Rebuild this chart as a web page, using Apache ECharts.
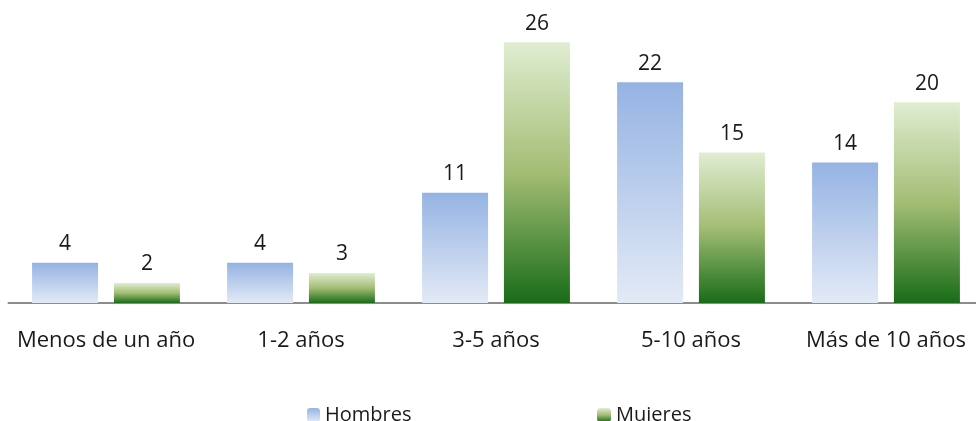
<!DOCTYPE html>
<html>
<head>
<meta charset="utf-8">
<script src="https://cdn.jsdelivr.net/npm/echarts@6/dist/echarts.min.js"></script>
<style>html,body{margin:0;padding:0;background:#fff}#c{width:976px;height:421px}</style>
</head>
<body>
<div id="c"></div>
<script>
var categories = ['Menos de un año', '1-2 años', '3-5 años', '5-10 años', 'Más de 10 años'];
var hombres = [4, 4, 11, 22, 14];
var mujeres = [2, 3, 26, 15, 20];

var FONT = 'Open Sans';
var FS = 22;
var blueGrad = new echarts.graphic.LinearGradient(0, 0, 0, 1, [
  {offset: 0, color: '#95b3e3'},
  {offset: 1, color: '#e3eaf6'}
]);
var greenGrad = new echarts.graphic.LinearGradient(0, 0, 0, 1, [
  {offset: 0, color: '#e0edd2'},
  {offset: 0.5, color: '#a3bd74'},
  {offset: 1, color: '#186c18'}
]);

var chart = echarts.init(document.getElementById('c'));
chart.setOption({
  animation: false,
  textStyle: {fontFamily: FONT},
  grid: {left: 8.5, width: 975, top: 2, bottom: 118, containLabel: false, outerBoundsMode: 'none'},
  legend: [
    {data: ['Hombres'], left: 307, top: 405, padding: 0, itemWidth: 13, itemHeight: 14, itemGap: 6,
     textStyle: {fontFamily: FONT, fontSize: 20, color: '#1a1a1a'}},
    {data: ['Mujeres'], left: 597, top: 405, padding: 0, itemWidth: 14, itemHeight: 14, itemGap: 6,
     textStyle: {fontFamily: FONT, fontSize: 20, color: '#1a1a1a'}}
  ],
  xAxis: {
    type: 'category',
    data: categories,
    axisLine: {lineStyle: {color: '#8c8c8c', width: 2}},
    axisTick: {show: false},
    axisLabel: {color: '#1a1a1a', fontSize: FS, fontFamily: FONT, margin: 27, interval: 0}
  },
  yAxis: {type: 'value', min: 0, max: 30, show: false, splitLine: {show: false}},
  series: [
    {name: 'Hombres', type: 'bar', data: hombres, barWidth: 66, barGap: '24%',
     itemStyle: {color: blueGrad},
     label: {show: true, position: 'top', distance: 8, fontSize: 21, color: '#1a1a1a', fontFamily: FONT}},
    {name: 'Mujeres', type: 'bar', data: mujeres, barWidth: 66,
     itemStyle: {color: greenGrad},
     label: {show: true, position: 'top', distance: 8, fontSize: 21, color: '#1a1a1a', fontFamily: FONT}}
  ]
});
</script>
</body>
</html>
